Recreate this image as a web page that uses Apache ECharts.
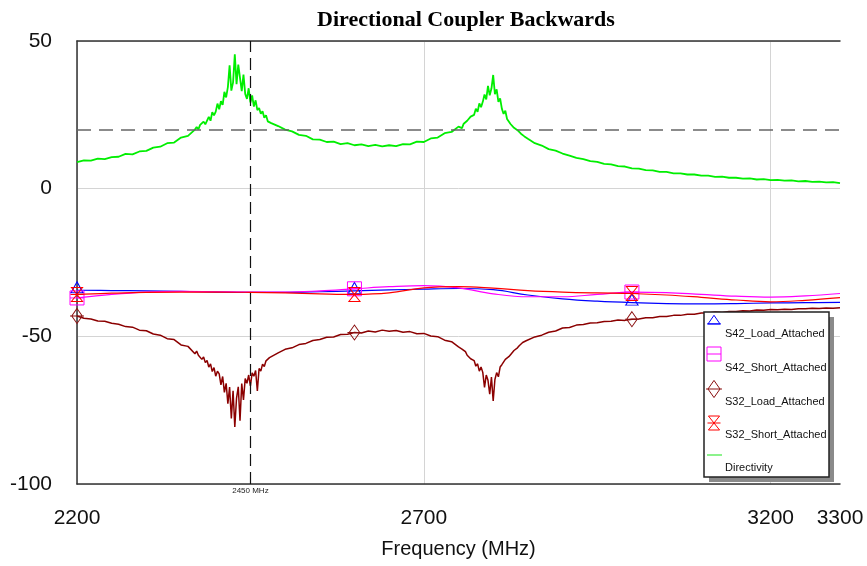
<!DOCTYPE html>
<html>
<head>
<meta charset="utf-8">
<script src="https://cdn.jsdelivr.net/npm/echarts@6/dist/echarts.min.js"></script>
<style>
  html, body { margin: 0; padding: 0; background: #ffffff; }
  #chart { width: 867px; height: 566px; }
</style>
</head>
<body>
<div id="chart"></div>
<script>
// Sweep points of the measured traces (denser around the two resonances)
const sweepFreq = [
  2200, 2210, 2220, 2230, 2240, 2250, 2260, 2270, 2280, 2290, 2300, 2310, 2320, 2330, 2340, 2350, 2360, 2370,
  2372.5, 2375, 2377.5, 2380, 2382.5, 2385, 2387.5, 2390, 2392.5, 2395, 2397.5, 2400, 2402.5, 2405, 2407.5, 2410,
  2412.5, 2415, 2417.5, 2420, 2422.5, 2425, 2427.5, 2430, 2432.5, 2435, 2437.5, 2440, 2442.5, 2445, 2447.5, 2450,
  2452.5, 2455, 2457.5, 2460, 2462.5, 2465, 2467.5, 2470, 2472.5, 2475, 2477.5, 2480,
  2490, 2500, 2510, 2520, 2530, 2540, 2550, 2560, 2570, 2580, 2590, 2600, 2610, 2620, 2630, 2640, 2650, 2660,
  2670, 2680, 2690, 2700, 2710, 2720, 2730, 2740, 2750,
  2752.5, 2755, 2757.5, 2760, 2762.5, 2765, 2767.5, 2770, 2772.5, 2775, 2777.5, 2780, 2782.5, 2785, 2787.5, 2790,
  2792.5, 2795, 2797.5, 2800, 2802.5, 2805, 2807.5, 2810, 2812.5, 2815, 2817.5, 2820, 2822.5, 2825, 2827.5, 2830,
  2832.5, 2835, 2837.5, 2840, 2842.5, 2845, 2847.5, 2850,
  2860, 2870, 2880, 2890, 2900, 2910, 2920, 2930, 2940, 2950, 2960, 2970, 2980, 2990, 3000, 3010, 3020, 3030,
  3040, 3050, 3060, 3070, 3080, 3090, 3100, 3110, 3120, 3130, 3140, 3150, 3160, 3170, 3180, 3190, 3200, 3210,
  3220, 3230, 3240, 3250, 3260, 3270, 3280, 3290, 3300
];

// Directivity (dB)
const directivityDb = [
  9.0, 9.6, 9.5, 10.2, 10.0, 10.7, 10.8, 11.8, 11.6, 12.6, 12.8, 13.9, 14.2, 15.4, 15.6, 17.3, 17.9, 20.0,
  20.9, 20.1, 21.6, 21.0, 22.7, 21.8, 22.4, 24.3, 23.0, 25.9, 24.8, 26.1, 28.8, 26.9, 29.6, 28.4,
  32.8, 30.9, 34.4, 41.8, 33.2, 36.0, 45.5, 35.4, 42.0, 37.5, 33.0, 38.6, 32.1, 30.4, 34.0, 29.2,
  31.6, 27.8, 29.9, 26.6, 27.3, 25.4, 26.2, 24.0, 24.9, 22.8, 23.4, 22.2,
  21.2, 20.0, 19.4, 18.2, 17.9, 16.7, 16.6, 15.8, 15.9, 15.1, 15.4, 14.7, 15.0, 14.4, 14.8, 14.3, 14.7, 14.4,
  15.1, 15.0, 15.9, 15.8, 17.0, 17.3, 18.8, 19.2, 21.0,
  21.2, 20.5, 22.0, 21.7, 23.0, 22.6, 24.4, 23.8, 25.0, 27.1, 26.0, 28.9, 27.6, 29.4, 31.9, 30.2,
  34.8, 31.6, 33.9, 38.5, 32.0, 33.6, 29.4, 30.6, 27.1, 25.3, 26.4, 23.6, 24.0, 21.9, 22.5, 20.6,
  21.1, 19.8, 19.9, 18.6, 18.9, 17.7, 17.4, 16.9,
  15.4, 14.6, 13.4, 12.9, 11.9, 11.2, 10.4, 10.0, 9.3, 9.1, 8.4, 8.2, 7.6, 7.5, 6.9, 6.8, 6.3, 6.2,
  5.7, 5.7, 5.2, 5.2, 4.8, 4.8, 4.4, 4.4, 4.0, 4.1, 3.7, 3.7, 3.4, 3.5, 3.1, 3.2, 2.9, 3.0,
  2.7, 2.8, 2.5, 2.6, 2.3, 2.4, 2.1, 2.2, 1.9
];

// S32 with load attached (dB)
const s32LoadDb = [
  -43.1, -43.9, -44.1, -44.8, -44.9, -45.6, -45.9, -46.7, -46.9, -47.9, -48.1, -49.2, -49.6, -50.8, -51.1, -52.9, -53.4, -55.9,
  -55.0, -56.4, -55.9, -57.8, -57.0, -58.9, -58.2, -60.4, -59.3, -61.9, -60.6, -63.5, -61.8, -62.7, -66.4, -63.6,
  -69.0, -65.9, -72.8, -67.2, -77.8, -68.4, -80.7, -70.9, -67.1, -78.6, -66.0, -71.5, -64.3, -65.9, -63.1, -66.8,
  -62.4, -63.5, -61.6, -68.5, -60.9, -61.8, -59.4, -60.2, -58.3, -58.8, -57.2, -57.5,
  -55.6, -54.4, -53.9, -52.8, -52.4, -51.4, -51.1, -50.3, -50.2, -49.4, -49.3, -48.7, -48.9, -48.2, -48.5, -47.9, -48.3, -48.0,
  -48.6, -48.4, -49.1, -49.0, -49.9, -50.1, -51.3, -51.8, -53.6,
  -53.2, -54.3, -54.6, -55.2, -56.4, -56.1, -57.6, -57.9, -58.2, -60.1, -59.3, -61.8, -60.4, -62.2, -67.3, -63.1,
  -64.9, -69.6, -63.8, -71.9, -64.6, -62.3, -63.7, -60.4, -59.6, -60.2, -57.8, -58.1, -56.9, -56.2, -55.9, -54.8,
  -55.0, -53.9, -53.2, -53.4, -52.1, -51.8, -51.5, -50.9,
  -50.2, -49.6, -48.6, -48.2, -47.2, -47.0, -46.2, -46.0, -45.5, -45.4, -45.0, -44.9, -44.5, -44.6, -44.2, -44.1, -43.7, -43.7,
  -43.3, -43.3, -42.9, -42.9, -42.5, -42.5, -42.1, -42.1, -41.8, -41.9, -41.6, -41.6, -41.3, -41.4, -41.1, -41.2, -40.9, -41.0,
  -40.8, -40.9, -40.7, -40.7, -40.5, -40.6, -40.4, -40.5, -40.3
];

// Slowly varying traces on a coarser sweep
const coarseFreq = [
  2200, 2250, 2300, 2350, 2400, 2450, 2500, 2550, 2600, 2650, 2700, 2750,
  2800, 2850, 2900, 2950, 3000, 3050, 3100, 3150, 3200, 3250, 3300
];
const s42LoadDb = [
  -34.4, -34.5, -34.6, -34.8, -35.0, -35.1, -35.1, -34.9, -34.6, -34.3, -34.0, -33.8,
  -34.2, -36.0, -37.3, -38.1, -38.6, -38.9, -39.0, -38.9, -38.7, -38.6, -38.5
];
const s42ShortDb = [
  -37.0, -35.8, -35.0, -34.8, -34.9, -35.0, -35.0, -34.6, -33.9, -33.2, -32.8, -33.6,
  -35.6, -36.6, -36.6, -35.8, -35.0, -35.2, -35.8, -36.4, -36.7, -36.3, -35.5
];
const s32ShortDb = [
  -35.8, -35.4, -35.1, -35.0, -35.0, -35.1, -35.3, -35.6, -35.8, -35.3, -33.6, -33.2,
  -33.7, -34.5, -35.0, -35.3, -35.5, -36.0, -36.8, -37.7, -38.3, -37.8, -36.9
];

// Frequencies where trace symbols are drawn
const markerFreqs = [2200, 2600, 3000];
// Cursor and reference level
const cursorFreq = 2450;
const refLevelDb = 20;

const traceNames = ['S42_Load_Attached', 'S42_Short_Attached', 'S32_Load_Attached', 'S32_Short_Attached', 'Directivity'];

if (sweepFreq.length !== directivityDb.length || sweepFreq.length !== s32LoadDb.length ||
    coarseFreq.length !== s42LoadDb.length || coarseFreq.length !== s42ShortDb.length || coarseFreq.length !== s32ShortDb.length) {
  throw new Error('trace length mismatch');
}

// Symbol outlines: a closed polygon plus one horizontal bar, relative to the symbol centre
const SHAPES = {
  tri: { poly: [[0, -6], [6, 5], [-6, 5]], bar: [-7, 5, 7, 5] },
  sqr: { poly: [[-7, -7], [7, -7], [7, 7], [-7, 7]], bar: [-7, 0, 7, 0] },
  dia: { poly: [[0, -8], [6, 0], [0, 8], [-6, 0]], bar: [-8, 0, 8, 0] },
  hrg: { poly: [[-6, -7], [6, -7], [-6, 7], [6, 7]], bar: [-7, 0, 7, 0] }
};

function shapePath(s) {
  const p = s.poly.map((pt, i) => (i === 0 ? 'M' : 'L') + pt[0] + ',' + pt[1]).join(' ') + ' Z';
  return 'path://' + p + ' M' + s.bar[0] + ',' + s.bar[1] + ' L' + s.bar[2] + ',' + s.bar[3];
}

const traceStyle = {
  'S42_Load_Attached':  { color: '#0000ff', shape: SHAPES.tri, size: [14, 11], offset: [0, -3] },
  'S42_Short_Attached': { color: '#ff00ff', shape: SHAPES.sqr, size: [14, 14], offset: [0, 0] },
  'S32_Load_Attached':  { color: '#8b1010', shape: SHAPES.dia, size: [14, 15], offset: [0, 0] },
  'S32_Short_Attached': { color: '#ff0000', shape: SHAPES.hrg, size: [13, 14], offset: [0, 0] },
  'Directivity':        { color: '#00ee00', shape: null }
};

function buildData(freqs, vals, name) {
  const st = traceStyle[name];
  return freqs.map((f, i) => {
    if (st.shape && markerFreqs.indexOf(f) >= 0) {
      return {
        value: [f, vals[i]],
        symbol: shapePath(st.shape),
        symbolSize: st.size,
        symbolOffset: st.offset
      };
    }
    return [f, vals[i]];
  });
}

function traceSeries(name, freqs, vals, extra) {
  const st = traceStyle[name];
  return Object.assign({
    name: name,
    type: 'line',
    data: buildData(freqs, vals, name),
    symbol: 'none',
    showSymbol: true,
    animation: false,
    lineStyle: { color: st.color, width: 1.2 },
    itemStyle: { color: 'rgba(0,0,0,0)', borderColor: st.color, borderWidth: 1 },
    emphasis: { disabled: true },
    clip: true
  }, extra || {});
}

const chart = echarts.init(document.getElementById('chart'), null, { renderer: 'canvas' });

const legendItems = [
  { name: traceNames[0], iconY: 320, textY: 334 },
  { name: traceNames[1], iconY: 354, textY: 368 },
  { name: traceNames[2], iconY: 389, textY: 402 },
  { name: traceNames[3], iconY: 423, textY: 435 },
  { name: traceNames[4], iconY: 455, textY: 468 }
];
const legendIconX = 714;

const legendGraphics = [
  { type: 'rect', shape: { x: 709, y: 317, width: 125, height: 165 }, style: { fill: '#8a8a8a' }, z: 100 },
  { type: 'rect', shape: { x: 704, y: 312, width: 125, height: 165 }, style: { fill: '#ffffff', stroke: '#222222', lineWidth: 1.5 }, z: 100 }
];
legendItems.forEach(it => {
  const st = traceStyle[it.name];
  if (st.shape) {
    const sx = st.size[0] / 14, sy = st.size[1] / 14;
    legendGraphics.push({
      type: 'polygon',
      shape: { points: st.shape.poly.map(p => [legendIconX + p[0] * sx, it.iconY + p[1] * sy]) },
      style: { fill: 'none', stroke: st.color, lineWidth: 1 },
      z: 101
    });
    legendGraphics.push({
      type: 'line',
      shape: {
        x1: legendIconX + st.shape.bar[0] * sx, y1: it.iconY + st.shape.bar[1] * sy,
        x2: legendIconX + st.shape.bar[2] * sx, y2: it.iconY + st.shape.bar[3] * sy
      },
      style: { stroke: st.color, lineWidth: 1 },
      z: 101
    });
  } else {
    legendGraphics.push({
      type: 'line',
      shape: { x1: 707, y1: it.iconY, x2: 722, y2: it.iconY },
      style: { stroke: '#66ee66', lineWidth: 1.5 },
      z: 101
    });
  }
  legendGraphics.push({
    type: 'text',
    x: 725, y: it.textY,
    style: {
      text: it.name, fill: '#111111', font: '11px "Liberation Sans", Arial, sans-serif',
      verticalAlign: 'middle', align: 'left'
    },
    z: 101
  });
});

const axisFont = '"Liberation Sans", Arial, sans-serif';
const plainNumber = v => String(v);

chart.setOption({
  backgroundColor: '#ffffff',
  animation: false,
  title: {
    text: 'Directional Coupler Backwards',
    left: 461,
    textAlign: 'center',
    top: 4,
    textStyle: { fontFamily: '"Liberation Serif", "Times New Roman", serif', fontWeight: 'bold', fontSize: 22, color: '#000000' }
  },
  grid: { left: 77, right: 27, top: 41, bottom: 82, containLabel: false },
  xAxis: [{
    type: 'value',
    min: 2200,
    max: 3300,
    interval: 500,
    name: 'Frequency (MHz)',
    nameLocation: 'middle',
    nameGap: 55,
    nameTextStyle: { fontFamily: axisFont, fontSize: 20, color: '#111111' },
    axisLine: { show: true, onZero: false, lineStyle: { color: '#333333', width: 1.5 } },
    axisTick: { show: false },
    axisLabel: { fontFamily: axisFont, fontSize: 21, color: '#111111', margin: 24, showMaxLabel: true, showMinLabel: true, formatter: plainNumber },
    splitLine: { show: true, showMaxLine: false, lineStyle: { color: '#d4d4d4', width: 1 } }
  }, {
    type: 'value',
    position: 'top',
    min: 2200,
    max: 3300,
    axisLine: { show: true, onZero: false, lineStyle: { color: '#333333', width: 1.5 } },
    axisTick: { show: false },
    axisLabel: { show: false },
    splitLine: { show: false }
  }],
  yAxis: {
    type: 'value',
    min: -100,
    max: 50,
    interval: 50,
    axisLine: { show: true, onZero: false, lineStyle: { color: '#333333', width: 1.5 } },
    axisTick: { show: false },
    axisLabel: { fontFamily: axisFont, fontSize: 21, color: '#111111', margin: 25, formatter: plainNumber },
    splitLine: { show: true, lineStyle: { color: '#d4d4d4', width: 1 } }
  },
  series: [
    traceSeries('Directivity', sweepFreq, directivityDb, { z: 2, lineStyle: { color: '#00ee00', width: 1.8 } }),
    traceSeries('S32_Load_Attached', sweepFreq, s32LoadDb, { z: 3, lineStyle: { color: '#8b0000', width: 1.5 } }),
    traceSeries('S42_Load_Attached', coarseFreq, s42LoadDb, { z: 4, smooth: 0.4 }),
    traceSeries('S42_Short_Attached', coarseFreq, s42ShortDb, { z: 5, smooth: 0.4 }),
    traceSeries('S32_Short_Attached', coarseFreq, s32ShortDb, { z: 6, smooth: 0.4 }),
    {
      name: 'cursor',
      type: 'line',
      data: [],
      z: 8,
      markLine: {
        silent: true,
        symbol: ['none', 'none'],
        animation: false,
        data: [
          {
            xAxis: cursorFreq,
            lineStyle: { color: '#111111', type: [12, 6], width: 1.2 },
            label: {
              show: true, position: 'start', distance: 3,
              formatter: cursorFreq + ' MHz',
              fontFamily: axisFont, fontSize: 8, color: '#222222'
            }
          },
          {
            yAxis: refLevelDb,
            lineStyle: { color: '#666666', type: [14, 8], width: 1.5 },
            label: { show: false }
          }
        ]
      }
    }
  ],
  graphic: legendGraphics
});
</script>
</body>
</html>
